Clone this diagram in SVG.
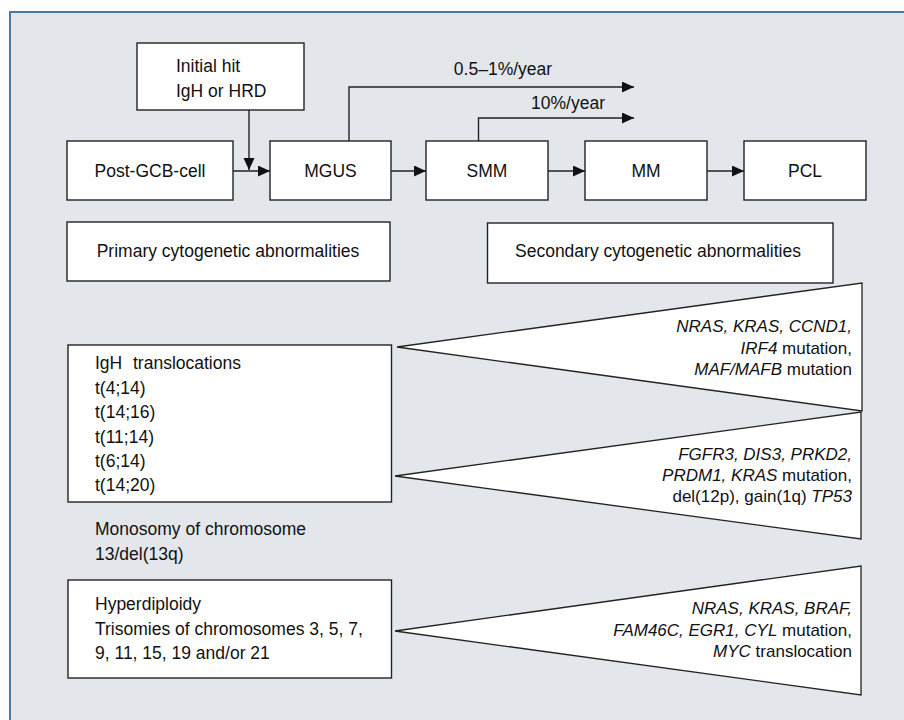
<svg xmlns="http://www.w3.org/2000/svg" width="904" height="720" viewBox="0 0 904 720">
<defs>
<style>
.box{fill:#fff;stroke:#222;stroke-width:1.4}
.tri{fill:#fff;stroke:#222;stroke-width:1.3;stroke-linejoin:miter}
.t{font-family:"Liberation Sans",Arial,sans-serif;font-size:17.5px;fill:#111}
.s{font-size:17px}
.c{text-anchor:middle}
.r{text-anchor:end}
.i{font-style:italic}
.con{fill:none;stroke:#222;stroke-width:1.4}
</style>
<marker id="ah" markerUnits="userSpaceOnUse" markerWidth="13" markerHeight="12" refX="12" refY="5.5" orient="auto">
<path d="M0,0 L12,5.5 L0,11 z" fill="#111"/>
</marker>
</defs>
<rect x="0" y="0" width="904" height="720" fill="#fff"/>
<rect x="10" y="12" width="910" height="730" fill="#e3e6eb" stroke="#4a79a9" stroke-width="2"/>

<g id="initial-hit">
<rect class="box" x="137" y="43" width="167" height="67"/>
<text class="t" x="176" y="72">Initial hit</text>
<text class="t" x="176" y="97">IgH or HRD</text>
</g>
<g id="post-gcb">
<rect class="box" x="67" y="141" width="166" height="59"/>
<text class="t c" x="150" y="177">Post-GCB-cell</text>
</g>
<g id="mgus">
<rect class="box" x="270" y="141" width="121" height="59"/>
<text class="t c" x="330.5" y="177">MGUS</text>
</g>
<g id="smm">
<rect class="box" x="426" y="141" width="122" height="59"/>
<text class="t c" x="487" y="177">SMM</text>
</g>
<g id="mm">
<rect class="box" x="585" y="141" width="122" height="59"/>
<text class="t c" x="646" y="177">MM</text>
</g>
<g id="pcl">
<rect class="box" x="744" y="141" width="122" height="59"/>
<text class="t c" x="805" y="177">PCL</text>
</g>
<g id="primary">
<rect class="box" x="67" y="222" width="323" height="59"/>
<text class="t c" x="228" y="257">Primary cytogenetic abnormalities</text>
</g>
<g id="secondary">
<rect class="box" x="487.5" y="223" width="345.5" height="60"/>
<text class="t c" x="658" y="257">Secondary cytogenetic abnormalities</text>
</g>
<g id="igh">
<rect class="box" x="68" y="345" width="323.5" height="157"/>
<text class="t" x="95" y="369">IgH<tspan x="133">translocations</tspan></text>
<text class="t" x="95" y="394">t(4;14)</text>
<text class="t" x="95" y="418">t(14;16)</text>
<text class="t" x="95" y="442.5">t(11;14)</text>
<text class="t" x="95" y="467">t(6;14)</text>
<text class="t" x="95" y="491">t(14;20)</text>
</g>
<g id="monosomy">
<text class="t" x="95" y="535">Monosomy of chromosome</text>
<text class="t" x="95" y="560">13/del(13q)</text>
</g>
<g id="hyperdiploidy">
<rect class="box" x="68" y="580" width="323.5" height="98"/>
<text class="t" x="95" y="610">Hyperdiploidy</text>
<text class="t" x="95" y="634.5">Trisomies of chromosomes 3, 5, 7,</text>
<text class="t" x="95" y="659">9, 11, 15, 19 and/or 21</text>
</g>
<g id="secondary-1">
<polygon class="tri" points="397,347 862,283 862,411"/>
<text class="t s r" x="852" y="332"><tspan class="i">NRAS, KRAS, CCND1,</tspan></text>
<text class="t s r" x="852" y="353.5"><tspan class="i">IRF4</tspan> mutation,</text>
<text class="t s r" x="852" y="374.5"><tspan class="i">MAF/MAFB</tspan> mutation</text>
</g>
<g id="secondary-2">
<polygon class="tri" points="395,476 861,412 861,539"/>
<text class="t s r" x="852" y="460"><tspan class="i">FGFR3, DIS3, PRKD2,</tspan></text>
<text class="t s r" x="852" y="481"><tspan class="i">PRDM1, KRAS</tspan> mutation,</text>
<text class="t s r" x="852" y="502">del(12p), gain(1q) <tspan class="i">TP53</tspan></text>
</g>
<g id="secondary-3">
<polygon class="tri" points="395,631 861,566 861,695"/>
<text class="t s r" x="852" y="613.5"><tspan class="i">NRAS, KRAS, BRAF,</tspan></text>
<text class="t s r" x="852" y="635.5"><tspan class="i">FAM46C, EGR1, CYL</tspan> mutation,</text>
<text class="t s r" x="852" y="657"><tspan class="i">MYC</tspan> translocation</text>
</g>

<g id="connectors">
<line class="con" x1="249" y1="110" x2="249" y2="170" marker-end="url(#ah)"/>
<line class="con" x1="233" y1="171" x2="270" y2="171" marker-end="url(#ah)"/>
<line class="con" x1="391" y1="171" x2="426" y2="171" marker-end="url(#ah)"/>
<line class="con" x1="548" y1="171" x2="585" y2="171" marker-end="url(#ah)"/>
<line class="con" x1="707" y1="171" x2="744" y2="171" marker-end="url(#ah)"/>
<path class="con" d="M349,141 V87 H634" marker-end="url(#ah)"/>
<path class="con" d="M478.5,141 V118 H634" marker-end="url(#ah)"/>
<text class="t c" x="503" y="75">0.5–1%/year</text>
<text class="t c" x="568" y="109">10%/year</text>
</g>
</svg>
